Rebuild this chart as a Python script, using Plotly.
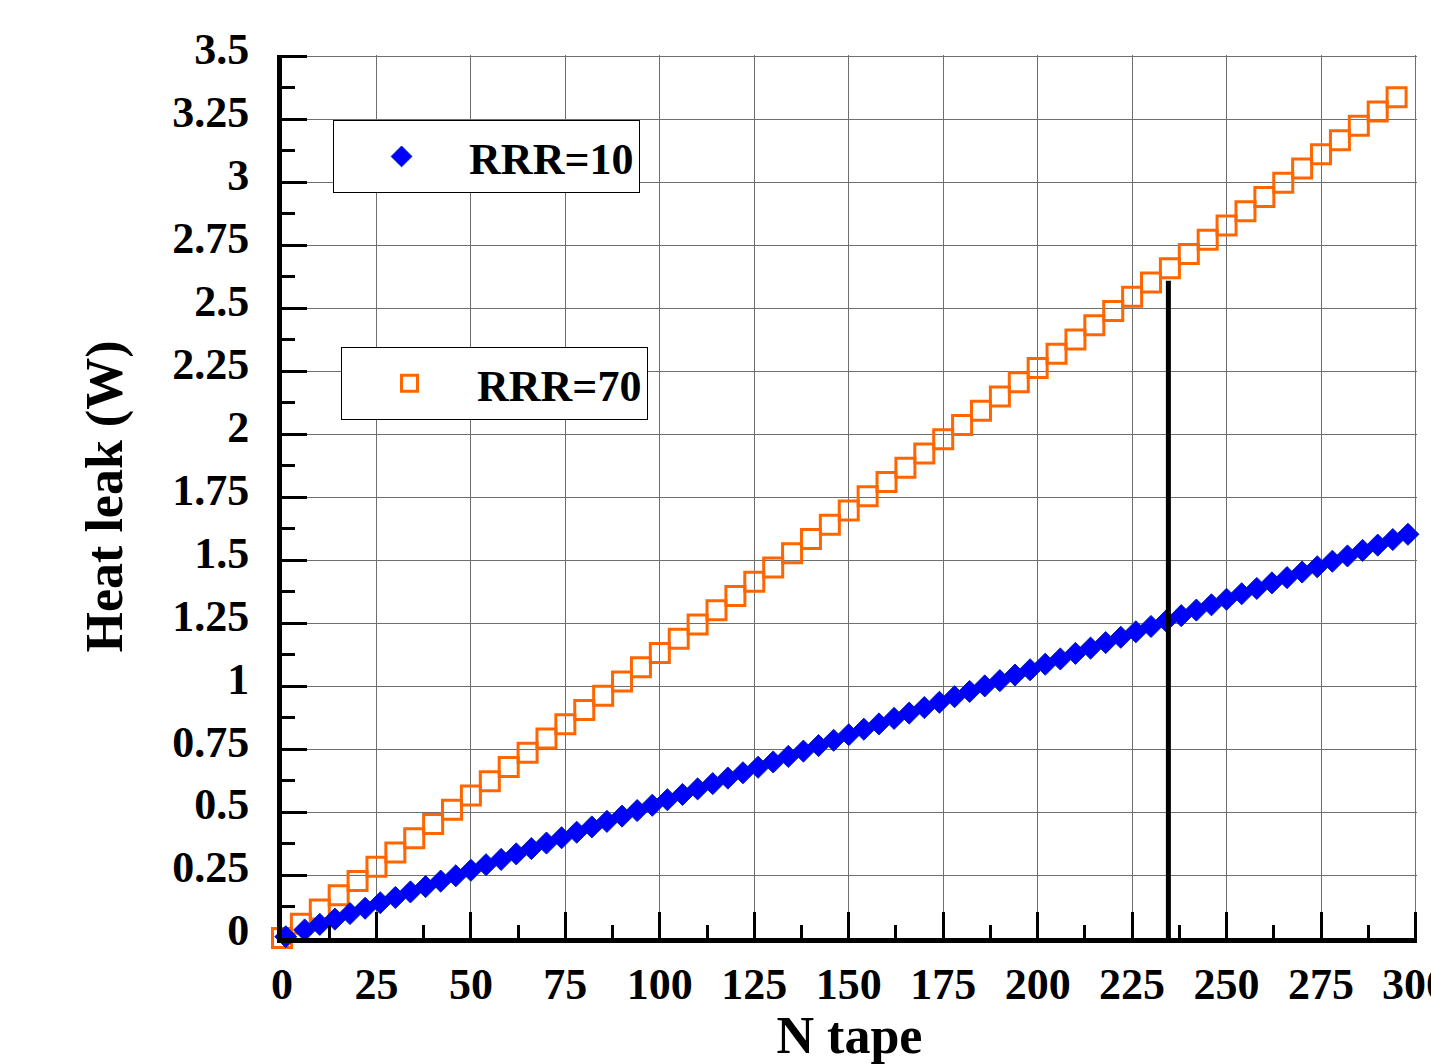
import plotly.graph_objects as go

# ---------------- data ----------------
rrr70_x = [0, 5, 10, 15, 20, 25, 30, 35, 40, 45, 50, 55, 60, 65, 70, 75, 80, 85, 90, 95,
           100, 105, 110, 115, 120, 125, 130, 135, 140, 145, 150, 155, 160, 165, 170, 175,
           180, 185, 190, 195, 200, 205, 210, 215, 220, 225, 230, 235, 240, 245, 250, 255,
           260, 265, 270, 275, 280, 285, 290, 295]
rrr70_y = [0.000, 0.057, 0.113, 0.170, 0.226, 0.283, 0.339, 0.396, 0.453, 0.509, 0.566, 0.622,
           0.679, 0.736, 0.792, 0.849, 0.905, 0.962, 1.018, 1.075, 1.132, 1.188, 1.245, 1.301,
           1.358, 1.415, 1.471, 1.528, 1.584, 1.641, 1.697, 1.754, 1.811, 1.867, 1.924, 1.980,
           2.037, 2.093, 2.150, 2.207, 2.263, 2.320, 2.376, 2.433, 2.490, 2.546, 2.603, 2.659,
           2.716, 2.772, 2.829, 2.886, 2.942, 2.999, 3.055, 3.112, 3.168, 3.225, 3.282, 3.338]

rrr10_x = [1, 6, 10, 14, 18, 22, 26, 30, 34, 38, 42, 46, 50, 54, 58, 62, 66, 70, 74, 78, 82,
           86, 90, 94, 98, 102, 106, 110, 114, 118, 122, 126, 130, 134, 138, 142, 146, 150,
           154, 158, 162, 166, 170, 174, 178, 182, 186, 190, 194, 198, 202, 206, 210, 214,
           218, 222, 226, 230, 234, 238, 242, 246, 250, 254, 258, 262, 266, 270, 274, 278,
           282, 286, 290, 294, 298]
rrr10_y = [0.005, 0.032, 0.054, 0.075, 0.097, 0.118, 0.140, 0.161, 0.183, 0.204, 0.226, 0.247,
           0.269, 0.291, 0.312, 0.334, 0.355, 0.377, 0.398, 0.420, 0.441, 0.463, 0.484, 0.506,
           0.527, 0.549, 0.570, 0.592, 0.613, 0.635, 0.656, 0.678, 0.699, 0.721, 0.742, 0.764,
           0.785, 0.807, 0.829, 0.850, 0.872, 0.893, 0.915, 0.936, 0.958, 0.979, 1.001, 1.022,
           1.044, 1.065, 1.087, 1.108, 1.130, 1.151, 1.173, 1.194, 1.216, 1.237, 1.259, 1.280,
           1.302, 1.323, 1.345, 1.367, 1.388, 1.410, 1.431, 1.453, 1.474, 1.496, 1.517, 1.539,
           1.560, 1.582, 1.603]

# vertical marker line (N tape ~ 234.6)
marker_x = [234.6, 234.6]
marker_y = [0.0, 2.61]

x_tick_step = 25
x_last_tick = 300
x_last_label = "300"
y_tickvals = [0, 0.25, 0.5, 0.75, 1, 1.25, 1.5, 1.75, 2, 2.25, 2.5, 2.75, 3, 3.25, 3.5]
y_ticktext = ["0", "0.25", "0.5", "0.75", "1", "1.25", "1.5", "1.75", "2", "2.25", "2.5",
              "2.75", "3", "3.25", "3.5"]

FONT = "Liberation Serif, Times New Roman, serif"
TICKFONT = dict(family=FONT, size=44, color="black", weight="bold")

fig = go.Figure()

fig.add_trace(go.Scatter(
    x=rrr70_x, y=rrr70_y, mode="markers", name="RRR=70", legend="legend2",
    cliponaxis=False,
    marker=dict(symbol="square-open", size=19, color="#FF6600", line=dict(width=3, color="#FF6600")),
))
fig.add_trace(go.Scatter(
    x=rrr10_x, y=rrr10_y, mode="markers", name="RRR=10", legend="legend",
    cliponaxis=False,
    marker=dict(symbol="diamond", size=17, color="#0000FF", line=dict(width=1, color="#0022AA")),
))
fig.add_trace(go.Scatter(
    x=marker_x, y=marker_y, mode="lines", showlegend=False,
    line=dict(color="black", width=5),
))

axis_common = dict(
    showline=True, linewidth=5, linecolor="black",
    showgrid=True, gridcolor="#6E6E6E", gridwidth=1.3,
    zeroline=False, automargin=False,
    ticks="inside", tickwidth=3, tickcolor="black",
    tickfont=TICKFONT,
    mirror=False,
)

fig.update_xaxes(
    **axis_common,
    range=[0, 300.4], tickmode="linear", tick0=0, dtick=x_tick_step,
    ticklen=26, ticklabelstandoff=3,
    minor=dict(dtick=12.5, tick0=0, ticks="inside", ticklen=13, tickwidth=3,
               tickcolor="black", showgrid=False),
    title=dict(text="N tape", font=dict(family=FONT, size=52, color="black", weight="bold"),
               standoff=12),
)
fig.update_yaxes(
    **axis_common,
    range=[0, 3.506], tickmode="array", tickvals=y_tickvals, ticktext=y_ticktext,
    ticklen=25, ticklabelstandoff=19, ticklabelshift=-8,
    minor=dict(dtick=0.125, tick0=0, ticks="inside", ticklen=13, tickwidth=3,
               tickcolor="black", showgrid=False),
    title=dict(text="Heat leak (W)", font=dict(family=FONT, size=52, color="black", weight="bold"),
               standoff=35),
)

# last x tick label (plotly hides it because it runs past the page edge;
# the reference shows it cut by the right edge as well)
fig.add_annotation(
    x=x_last_tick, xref="x", y=0, yref="paper", text=x_last_label,
    showarrow=False, xanchor="center", yanchor="middle", yshift=-46,
    font=TICKFONT,
)

legend_style = dict(
    bgcolor="white", bordercolor="black", borderwidth=1,
    font=dict(family=FONT, size=44, color="black", weight="bold"),
    xanchor="left", yanchor="top", itemwidth=125, itemclick=False,
)

fig.update_layout(
    width=1431, height=1064,
    margin=dict(l=282, r=13.5, t=54.5, b=126),
    plot_bgcolor="white", paper_bgcolor="white",
    font=dict(family=FONT, color="black"),
    legend=dict(**legend_style, x=0.045, y=0.926),
    legend2=dict(**legend_style, x=0.052, y=0.669),
)

fig.write_html("out.html")
